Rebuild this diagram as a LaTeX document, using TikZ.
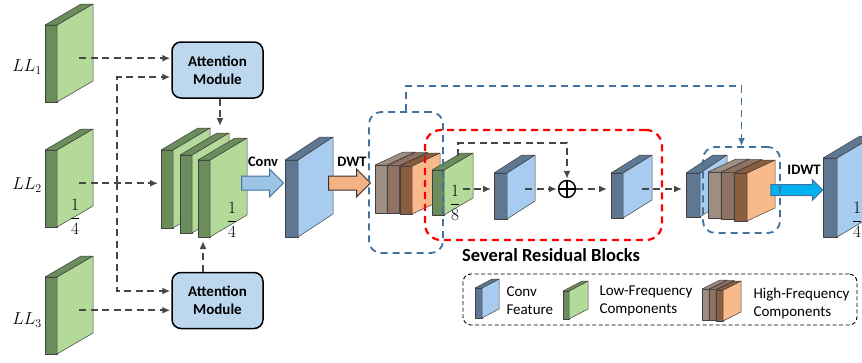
\documentclass[tikz,border=0pt]{standalone}
\usepackage{amsmath}
\usepackage{fontspec}
\usetikzlibrary{arrows.meta,shapes.arrows,positioning}
\newfontfamily\calibri{Carlito}
\definecolor{lfdark}{HTML}{6B8C5B}
\definecolor{lflight}{HTML}{B4DA9A}
\definecolor{cfdark}{HTML}{5E7893}
\definecolor{cflight}{HTML}{A8CCEF}
\definecolor{attn}{HTML}{BDD7EE}
\definecolor{dashgray}{HTML}{474747}
\definecolor{boxblue}{HTML}{41719C}
\definecolor{hfaf}{HTML}{9E8E84}
\definecolor{hfas}{HTML}{B3A59A}
\definecolor{hfbf}{HTML}{8F7261}
\definecolor{hfbs}{HTML}{A88B78}
\definecolor{hfcf}{HTML}{8B5E3D}
\definecolor{hfcs}{HTML}{F9BA8B}
\definecolor{convfill}{HTML}{9DC3E6}
\definecolor{dwtfill}{HTML}{F4B183}
\definecolor{idwtfill}{HTML}{00B0F0}
% slab: name, x, top, w, h, dx, dy, front, side
\newcommand{\slab}[9]{%
  \filldraw[slabline,fill=#8] (#2,#3) rectangle ++(#4,#5);
  \filldraw[slabline,fill=#9] (#2+#4,#3) -- ++(#6,-#7) -- ++(0,#5) -- ++(-#6,#7) -- cycle;
  \filldraw[slabline,fill=#8] (#2,#3) -- ++(#6,-#7) -- ++(#4,0) -- ++(-#6,#7) -- cycle;
  \coordinate (#1) at (#2+#4+#6/2+4,#3+#5/2-#7/4);
  \coordinate (#1-w) at (#2,#3+#5/2);
}

\begin{document}
\begin{tikzpicture}[x=1pt,y=-1pt,
  slabline/.style={draw=black!75,line width=0.5pt,line join=round},
  dasharrow/.style={dashgray,line width=1.8pt,dash pattern=on 7pt off 4.5pt,-{Latex[length=8pt,width=7pt]},shorten >=1pt},
  attnbox/.style={draw,line width=1.5pt,fill=attn,rounded corners=9pt,minimum width=91pt,minimum height=56pt,align=center,font=\calibri\bfseries\fontsize{15}{18}\selectfont},
  bluebox/.style={draw=boxblue,line width=1.8pt,dash pattern=on 7pt off 5pt,rounded corners=12pt},
  redbox/.style={draw=red,line width=2.2pt,dash pattern=on 7pt off 5pt,rounded corners=16pt},
  legendbox/.style={draw,line width=0.9pt,dash pattern=on 4pt off 2.5pt,rounded corners=8pt},
  blockarrow/.style={single arrow,inner sep=0pt,line width=1pt,single arrow head extend=7pt},
  arrlbl/.style={font=\calibri\bfseries\fontsize{14.5}{17}\selectfont},
  legtxt/.style={anchor=west,align=left,font=\calibri\fontsize{15}{18}\selectfont},
  lllbl/.style={font=\fontsize{17.5}{20}\selectfont},
  fraclbl/.style={font=\fontsize{17}{20}\selectfont}]
\path[use as bounding box,clip] (0,0) rectangle (862,362);

% inputs
\slab{ll1}{45}{25}{12}{77}{36}{21}{lfdark}{lflight}
\slab{ll2}{45}{150}{12}{77}{36}{21}{lfdark}{lflight}
\slab{ll3}{45}{277}{12}{77}{36}{21}{lfdark}{lflight}
\node[lllbl] (ll1txt) at (27,67) {$LL_1$};
\node[lllbl] (ll2txt) at (27,185) {$LL_2$};
\node[lllbl] (ll3txt) at (27,320) {$LL_3$};
\node[fraclbl] (ll2frac) at (75,217) {$\dfrac{1}{4}$};

\node[attnbox] (am1) at (217.5,70) {Attention\\Module};
\node[attnbox] (am2) at (217.5,300.5) {Attention\\Module};

% fused low-frequency stack
\slab{stka}{161}{150}{12}{78}{37}{22}{lfdark}{lflight}
\slab{stkb}{180}{155}{12}{78}{37}{22}{lfdark}{lflight}
\slab{stkc}{198}{160}{12}{77}{37}{22}{lfdark}{lflight}
\node[fraclbl] (stkfrac) at (232,220) {$\dfrac{1}{4}$};

\coordinate (split) at (117,183);
\coordinate (stktop) at (220,127);
\coordinate (stkbot) at (203,240);
\draw[dasharrow] (ll1) -- (ll1 -| am1.west);
\draw[dasharrow] (ll2) -- ([xshift=-2pt]ll2 -| stka-w);
\draw[dasharrow] (ll3) -- (ll3 -| am2.west);
\draw[dasharrow] (split) |- ([yshift=-7pt]am1.west);
\draw[dasharrow] (split) |- ([yshift=9.5pt]am2.west);
\draw[dasharrow] (am1.south -| stktop) -- (stktop);
\draw[dasharrow] (am2.north -| stkbot) -- (stkbot);

\node[blockarrow,fill=convfill,draw=boxblue,minimum height=42pt] (convarr) at (259,183) {\rule{0pt}{13pt}};
\node[arrlbl] (convlbl) at (263,162) {Conv};
\slab{cf}{285}{160}{13}{77}{35}{23}{cfdark}{cflight}
\node[blockarrow,fill=dwtfill,draw=black!80,minimum height=42pt] (dwtarr) at (346,183) {\rule{0pt}{13pt}};
\node[arrlbl] (dwtlbl) at (352,162) {DWT};

% high-frequency stack after DWT
\slab{hfa1}{375}{165}{12}{48}{28}{13}{hfaf}{hfas}
\slab{hfb1}{387.5}{165.5}{12}{48}{28}{13}{hfbf}{hfbs}
\slab{hfc1}{400}{166}{12}{48}{28}{13}{hfcf}{hfcs}

% residual block
\slab{lf8}{432}{170}{12}{45}{29}{17}{lfdark}{lflight}
\node[fraclbl] (lf8frac) at (455,203) {$\dfrac{1}{8}$};
\slab{rb1}{494}{173}{13}{46}{28}{18}{cfdark}{cflight}
\node[circle,draw,line width=1.4pt,minimum size=17pt,inner sep=0pt] (plus) at (567,189) {};
\draw[line width=1.4pt] (plus.north) -- (plus.south) (plus.west) -- (plus.east);
\slab{rb2}{611}{173}{12}{45}{29}{18}{cfdark}{cflight}
\coordinate (skip) at (458,156);
\draw[dasharrow] (skip) -- ++(0,-13) -| (plus.north);
\draw[dasharrow] (plus.west -| lf8) -- ([xshift=-2pt]plus.west -| rb1-w);
\draw[dasharrow] (plus.west -| rb1) -- (plus.west);
\draw[dasharrow] (plus.east) -- ([xshift=-3pt]plus.east -| rb2-w);

% before IDWT
\slab{pst}{686}{173}{14}{44}{27}{18}{cfdark}{cflight}
\slab{hfa2}{708}{172}{13}{46}{28}{13}{hfaf}{hfas}
\slab{hfb2}{721}{172.5}{13}{47}{28}{13}{hfbf}{hfbs}
\slab{hfc2}{734}{173}{13}{48}{28}{13}{hfcf}{hfcs}
\draw[dasharrow] (plus.west -| rb2) -- ([xshift=-3pt]plus.west -| pst-w);

\node[blockarrow,fill=idwtfill,draw=boxblue,minimum height=52pt,single arrow head extend=5pt] (idwtarr) at (794,190) {\rule{0pt}{10pt}};
\node[arrlbl] (idwtlbl) at (804,170) {IDWT};
\slab{out}{823}{158}{14}{79}{37}{22}{cfdark}{cflight}
\node[fraclbl] (outfrac) at (857,220) {$\dfrac{1}{4}$};

% dashed groups
\node[bluebox,minimum width=74pt,minimum height=141pt] (dwtbox) at (406,182.5) {};
\node[redbox,minimum width=237pt,minimum height=110pt] (resbox) at (543.5,185) {};
\node[bluebox,minimum width=77pt,minimum height=86pt] (idwtbox) at (741.5,190) {};
\draw[boxblue,line width=1.8pt,dash pattern=on 7pt off 5pt,-{Latex[length=8pt,width=7pt]}] (dwtbox.north) -- ++(0,-25) -| (idwtbox.north);
\node[font=\calibri\bfseries\fontsize{18.5}{22}\selectfont] (restxt) at (551,255) {Several Residual Blocks};

% legend
\node[legendbox,minimum width=394pt,minimum height=51pt] (legend) at (660,299.5) {};
\slab{lgc}{475}{288}{7}{30}{17}{9}{cfdark}{cflight}
\node[legtxt] (lgctxt) at (503,301) {Conv\\Feature};
\slab{lgl}{563}{291}{6}{28}{19}{10}{lfdark}{lflight}
\node[legtxt] (lgltxt) at (596,301) {Low-Frequency\\Components};
\slab{lgh1}{702}{289}{7}{31}{18}{9}{hfaf}{hfas}
\slab{lgh2}{709}{289.5}{7}{31}{18}{9}{hfbf}{hfbs}
\slab{lgh3}{716}{290}{7}{31}{18}{9}{hfcf}{hfcs}
\node[legtxt] (lghtxt) at (750,303) {High-Frequency\\Components};
\end{tikzpicture}
\end{document}
